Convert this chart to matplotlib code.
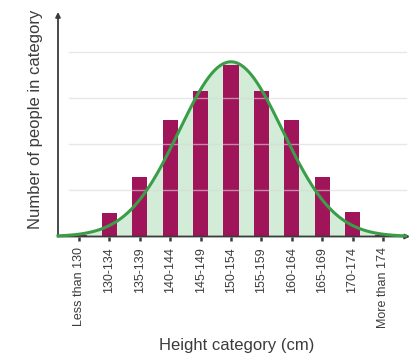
#!/usr/bin/env python3
"""Height distribution bar chart with a fitted normal curve."""

import numpy as np
import matplotlib
matplotlib.use("Agg")
import matplotlib.pyplot as plt

# Categories and counts (grid step = 10)
categories = ["Less than 130", "130-134", "135-139", "140-144", "145-149",
              "150-154", "155-159", "160-164", "165-169", "170-174",
              "More than 174"]
counts = [0.4, 5.1, 12.9, 25.2, 31.5, 37.3, 31.5, 25.2, 12.9, 5.4, 0.4]

# Fitted normal curve parameters (in category-index units)
curve_center = 5.0
curve_sd = 1.7
curve_peak = 37.9

grid_levels = [10, 20, 30, 40]

BAR_COLOR = "#a0155a"
FILL_COLOR = "#d2ecd7"
CURVE_COLOR = "#3a9e48"
AXIS_COLOR = "#3a3a3a"
TEXT_COLOR = "#3c3c3c"

plt.rcParams["font.family"] = ["Liberation Sans", "DejaVu Sans"]

fig = plt.figure(figsize=(4.19, 3.61), dpi=100)
ax = fig.add_axes([58 / 419, 1 - 236.5 / 361, 352 / 419, 224.5 / 361])

x = np.arange(len(categories))
x_lo, x_hi = -0.69, 10.89
ax.set_xlim(x_lo, x_hi)
ax.set_ylim(0, 48.7)

# Area under the curve
xs = np.linspace(x_lo, x_hi - 0.15, 400)
ys = curve_peak * np.exp(-((xs - curve_center) ** 2) / (2 * curve_sd ** 2))
ax.fill_between(xs, 0, ys, color=FILL_COLOR, lw=0, zorder=1)

# Bars
ax.bar(x, counts, width=0.5, color=BAR_COLOR, zorder=2)

# Faint horizontal grid lines
for level in grid_levels:
    ax.axhline(level, xmin=0.03, xmax=0.99, color="#d8d8d8", alpha=0.6,
               lw=1.0, zorder=3)

# Normal curve
ax.plot(xs, ys, color=CURVE_COLOR, lw=2.2, zorder=4, clip_on=False)

# Axes drawn as arrows
for side in ["top", "right", "left", "bottom"]:
    ax.spines[side].set_visible(False)
ax.annotate("", xy=(0, 1), xytext=(0, 0), xycoords="axes fraction",
            arrowprops=dict(arrowstyle="-|>", color=AXIS_COLOR, lw=1.3,
                            mutation_scale=7, shrinkA=0, shrinkB=0))
ax.annotate("", xy=(1, 0), xytext=(0, 0), xycoords="axes fraction",
            arrowprops=dict(arrowstyle="-|>", color=AXIS_COLOR, lw=1.3,
                            mutation_scale=7, shrinkA=0, shrinkB=0))

ax.set_xticks(x)
ax.set_xticklabels(categories, rotation=90, fontsize=9, color=TEXT_COLOR)
ax.tick_params(axis="x", length=3, width=1.8, color=AXIS_COLOR, pad=4.5)
ax.set_yticks([])

ax.set_xlabel("Height category (cm)", fontsize=12, color=TEXT_COLOR, va="center")
ax.xaxis.set_label_coords(0.507, -0.486)
ax.set_ylabel("Number of people in category", fontsize=12, color=TEXT_COLOR,
              va="center")
ax.yaxis.set_label_coords(-0.065, 0.52)

fig.savefig("out.png", dpi=100)
plt.close(fig)
